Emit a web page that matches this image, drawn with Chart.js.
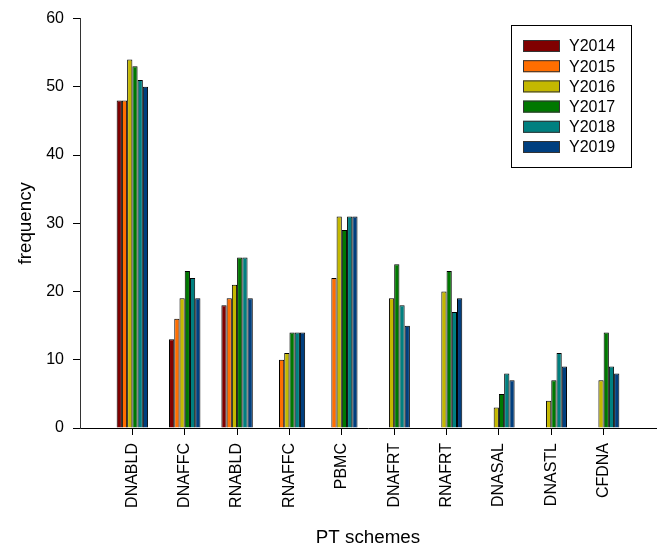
<!DOCTYPE html>
<html>
<head>
<meta charset="utf-8">
<script src="https://cdn.jsdelivr.net/npm/chart.js@4.4.1/dist/chart.umd.min.js"></script>
<style>
  html, body { margin: 0; padding: 0; background: #fff; }
  #wrap { width: 662px; height: 554px; }
</style>
</head>
<body>
<div id="wrap"><canvas id="c" width="662" height="554"></canvas></div>
<script>
const categories = ["DNABLD", "DNAFFC", "RNABLD", "RNAFFC", "PBMC", "DNAFRT", "RNAFRT", "DNASAL", "DNASTL", "CFDNA"];
const seriesNames = ["Y2014", "Y2015", "Y2016", "Y2017", "Y2018", "Y2019"];
const y2014 = [48, 13, 18, null, null, null, null, null, null, null];
const y2015 = [48, 16, 19, 10, 22, null, null, null, null, null];
const y2016 = [54, 19, 21, 11, 31, 19, 20, 3, 4, 7];
const y2017 = [53, 23, 25, 14, 29, 24, 23, 5, 7, 14];
const y2018 = [51, 22, 25, 14, 31, 18, 17, 8, 11, 9];
const y2019 = [50, 19, 19, 14, 31, 15, 19, 7, 9, 8];
const yTicks = [0, 10, 20, 30, 40, 50, 60];

const seriesValues = [y2014, y2015, y2016, y2017, y2018, y2019];
const colors = ["#800000", "#FF6E00", "#C4B800", "#007800", "#008080", "#003F7F"];
const FONT = "'Liberation Sans', Arial, sans-serif";

// pad with one empty slot at each end
const labels = [""].concat(categories, [""]);
const datasets = seriesNames.map((name, i) => ({
  label: name,
  data: [null].concat(seriesValues[i], [null]),
  backgroundColor: colors[i],
  borderColor: "#000",
  borderWidth: 1,
  borderSkipped: "bottom",
  categoryPercentage: 0.6,
  barPercentage: 1.0
}));

const boxLegend = {
  id: "boxLegend",
  afterDatasetsDraw(chart) {
    const ctx = chart.ctx;
    ctx.save();
    const bx = 511.5, by = 25.5, bw = 120, bh = 142;
    ctx.strokeStyle = "#000";
    ctx.lineWidth = 1;
    ctx.strokeRect(bx, by, bw, bh);
    ctx.font = "16px " + FONT;
    ctx.textBaseline = "middle";
    ctx.textAlign = "left";
    chart.data.datasets.forEach((ds, i) => {
      const cy = 46 + i * 20.2;
      ctx.fillStyle = ds.backgroundColor;
      ctx.fillRect(523, cy - 6, 37, 12);
      ctx.strokeStyle = "#333";
      ctx.strokeRect(523.5, cy - 5.5, 36, 11);
      ctx.fillStyle = "#000";
      ctx.fillText(ds.label, 569, cy + 1);
    });
    ctx.restore();
  }
};

new Chart(document.getElementById("c"), {
  type: "bar",
  data: { labels: labels, datasets: datasets },
  options: {
    responsive: false,
    animation: false,
    devicePixelRatio: 1,
    layout: { padding: { top: 13, right: 6, bottom: 2, left: 0 } },
    plugins: { legend: { display: false }, tooltip: { enabled: false } },
    scales: {
      x: {
        type: "category",
        offset: false,
        grid: {
          offset: false,
          drawOnChartArea: false,
          drawTicks: true,
          tickLength: 7,
          tickWidth: 1,
          tickColor: (c) => (c.index === 0 || c.index === labels.length - 1) ? "rgba(0,0,0,0)" : "#000"
        },
        border: { display: true, color: "#000", width: 1 },
        ticks: {
          autoSkip: false,
          maxRotation: 90,
          minRotation: 90,
          padding: 8,
          color: "#000",
          font: { family: FONT, size: 16 }
        },
        title: {
          display: true,
          text: "PT schemes",
          color: "#000",
          font: { family: FONT, size: 18.8 },
          padding: { top: 4, bottom: 3 }
        },
        afterFit: (s) => { s.height = 554 - 428 - 2; s.paddingLeft = 0; s.paddingRight = 0; }
      },
      y: {
        min: 0,
        max: 60,
        afterBuildTicks: (s) => { s.ticks = yTicks.map(v => ({ value: v })); },
        grid: { drawOnChartArea: false, drawTicks: true, tickLength: 7, tickWidth: 1, tickColor: "#000" },
        border: { display: true, color: "#333", width: 1 },
        ticks: {
          padding: 9,
          color: "#000",
          font: { family: FONT, size: 16 }
        },
        title: {
          display: true,
          text: "frequency",
          color: "#000",
          font: { family: FONT, size: 18.8 },
          padding: { top: 14.5, bottom: 4 }
        },
        afterFit: (s) => { s.width = 80; }
      }
    }
  },
  plugins: [boxLegend]
});
</script>
</body>
</html>
